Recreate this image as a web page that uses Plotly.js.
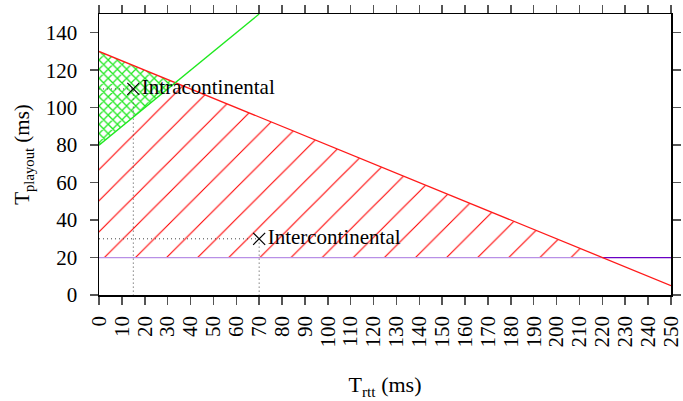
<!DOCTYPE html>
<html>
<head>
<meta charset="utf-8">
<script src="https://cdn.plot.ly/plotly-3.0.1.min.js"></script>
<style>
  html, body { margin: 0; padding: 0; background: #fff; }
  #chart { width: 683px; height: 401px; }
</style>
</head>
<body>
<div id="chart"></div>
<script>
// Playout budget versus round-trip time (ms)
const budgetX = [0, 250];      // T_rtt at the ends of the budget line
const budgetY = [130, 5];      // maximum T_playout for those T_rtt
const echoX = [0, 70];         // T_rtt at the ends of the echo line
const echoY = [80, 150];       // T_playout along the echo line
const floorX = [0, 250];
const floorLevel = 20;         // minimum T_playout
const caseNames = ['Intracontinental', 'Intercontinental'];
const caseRtt = [15, 70];
const casePlayout = [110, 30];
const xTicks = [0, 10, 20, 30, 40, 50, 60, 70, 80, 90, 100, 110, 120, 130, 140, 150, 160, 170, 180, 190, 200, 210, 220, 230, 240, 250];
const yTicks = [0, 20, 40, 60, 80, 100, 120, 140];

// straight-line helpers built from the two endpoints of each line
const slope = (xs, ys) => (ys[1] - ys[0]) / (xs[1] - xs[0]);
const at = (xs, ys, x) => ys[0] + slope(xs, ys) * (x - xs[0]);
const budgetSlope = slope(budgetX, budgetY);
const echoSlope = slope(echoX, echoY);
// where the budget line meets the floor
const floorCrossX = budgetX[0] + (floorLevel - budgetY[0]) / budgetSlope;
// where the budget line meets the echo line
const echoCrossX = (at(echoX, echoY, 0) - at(budgetX, budgetY, 0)) / (budgetSlope - echoSlope);
const echoCrossY = at(budgetX, budgetY, echoCrossX);

const serif = "'Liberation Serif', 'Times New Roman', Times, serif";

const traces = [
  // feasible region: above the floor and below the budget line
  {
    x: [0, 0, floorCrossX, 0],
    y: [floorLevel, budgetY[0], floorLevel, floorLevel],
    mode: 'none', fill: 'toself', hoverinfo: 'skip',
    fillcolor: 'rgba(0,0,0,0)',
    fillpattern: { shape: '/', size: 22, solidity: 0.05, fgcolor: '#ff0000', bgcolor: 'rgba(0,0,0,0)', fillmode: 'replace' }
  },
  // region also above the echo line
  {
    x: [0, 0, echoCrossX, 0],
    y: [echoY[0], budgetY[0], echoCrossY, echoY[0]],
    mode: 'none', fill: 'toself', hoverinfo: 'skip',
    fillcolor: '#ffffff',
    fillpattern: { shape: 'x', size: 6.5, solidity: 0.36, fgcolor: '#1ee81e', bgcolor: '#ffffff', fillmode: 'replace' }
  },
  // floor, split where the budget line crosses it
  {
    x: [floorX[0], floorCrossX], y: [floorLevel, floorLevel],
    mode: 'lines', line: { color: '#b890e6', width: 1.3 }, hoverinfo: 'skip'
  },
  {
    x: [floorCrossX, floorX[1]], y: [floorLevel, floorLevel],
    mode: 'lines', line: { color: '#6a00c4', width: 1.3 }, hoverinfo: 'skip'
  },
  // budget line
  {
    x: budgetX, y: budgetY, mode: 'lines',
    line: { color: '#ff1a1a', width: 1.3 }, hoverinfo: 'skip'
  },
  // echo line
  {
    x: echoX, y: echoY, mode: 'lines',
    line: { color: '#1ee81e', width: 1.3 }, hoverinfo: 'skip'
  }
];

// dotted guides from each case down to the axes
caseRtt.forEach((rx, i) => {
  traces.push({
    x: [0, rx, rx], y: [casePlayout[i], casePlayout[i], 0],
    mode: 'lines', line: { color: '#444444', width: 1, dash: '1px,3px' }, hoverinfo: 'skip'
  });
});

// the two cases
traces.push({
  x: caseRtt, y: casePlayout, text: caseNames,
  mode: 'markers+text', textposition: 'middle right',
  marker: { symbol: 'x-thin', size: 12, line: { color: '#000000', width: 1.2 }, color: '#000000' },
  textfont: { family: serif, size: 21, color: '#000000' },
  hoverinfo: 'skip'
});

const axisCommon = {
  showgrid: false, zeroline: false,
  showline: true, linecolor: '#000000', linewidth: 1.5,
  mirror: 'ticks', ticks: 'outside', ticklen: 8, tickwidth: 1.5, tickcolor: '#555555',
  tickfont: { family: serif, size: 21, color: '#000000' }
};

const layout = {
  width: 683, height: 401,
  margin: { l: 99, r: 12, t: 14, b: 106 },
  paper_bgcolor: '#ffffff', plot_bgcolor: '#ffffff',
  showlegend: false,
  font: { family: serif, color: '#000000' },
  xaxis: Object.assign({}, axisCommon, {
    range: [0, 250], tickmode: 'array', tickvals: xTicks, ticktext: xTicks.map(String),
    tickangle: -90, ticklabelstandoff: 3,
    title: { text: 'T<sub>rtt</sub> (ms)', font: { family: serif, size: 22, color: '#000000' }, standoff: 30 }
  }),
  yaxis: Object.assign({}, axisCommon, {
    range: [0, 150], tickmode: 'array', tickvals: yTicks, ticktext: yTicks.map(String),
    ticklabelstandoff: 8,
    title: { text: 'T<sub>playout</sub> (ms)', font: { family: serif, size: 21, color: '#000000' }, standoff: 10 }
  })
};

Plotly.newPlot('chart', traces, layout, { staticPlot: true, displayModeBar: false });
</script>
</body>
</html>
